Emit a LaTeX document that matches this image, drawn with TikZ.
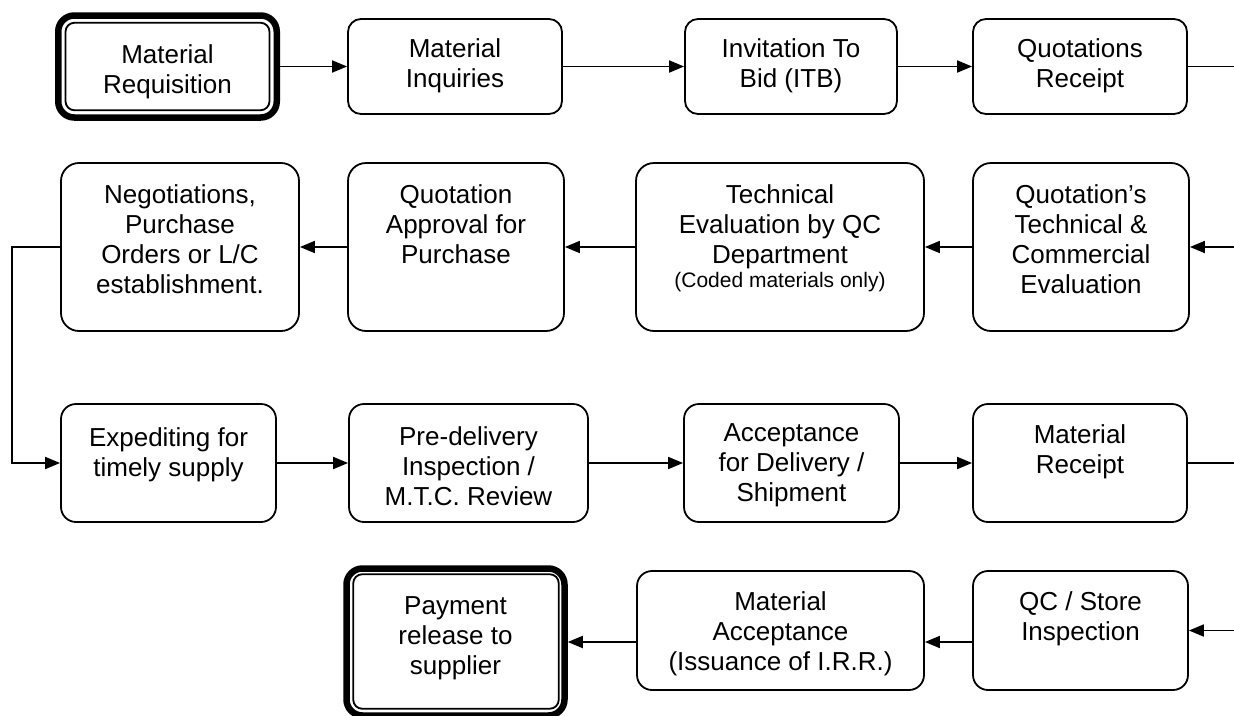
\documentclass[tikz,border=0pt]{standalone}
\usepackage{fontspec}
\setmainfont{Liberation Sans}
\usetikzlibrary{arrows.meta}
\begin{document}
\begin{tikzpicture}[x=1pt,y=-1pt,
  box/.style={draw, line width=1.8pt, rounded corners=#1, inner sep=0pt},
  box/.default=14pt,
  frame/.style={draw, line width=6.5pt, rounded corners=16pt, inner sep=0pt},
  innerframe/.style={line width=1.8pt, rounded corners=9pt},
  txt/.style={inner sep=0pt, align=center, anchor=north, font=\fontsize{26}{30}\selectfont},
  arr/.style={line width=1.8pt, -{Triangle[length=15pt,width=12pt]}},
  ln/.style={line width=1.8pt}
]
\useasboundingbox (0,0) rectangle (1234,715);

% ---------- row 1 ----------
\node[frame, minimum width=218.5pt, minimum height=102pt] (req) at (167.5,66.5) {};
\draw[innerframe] ([shift={(10.5pt,-10.5pt)}]req.north west) rectangle ([shift={(-10.5pt,10.5pt)}]req.south east);
\node[txt] (reqt) at (167.5,44) {Material\\Requisition};

\node[box=13pt, minimum width=214pt, minimum height=95pt] (inq) at (455,66.5) {};
\node[txt] (inqt) at (455,38) {Material\\Inquiries};

\node[box=13pt, minimum width=212pt, minimum height=95pt] (itb) at (791,66.5) {};
\node[txt] (itbt) at (791,38) {Invitation To\\Bid (ITB)};

\node[box=13pt, minimum width=214pt, minimum height=95pt] (qr) at (1080,66.5) {};
\node[txt] (qrt) at (1080,38) {Quotations\\Receipt};

% ---------- row 2 ----------
\node[box=18pt, minimum width=216pt, minimum height=168pt] (qte) at (1081,247) {};
\node[txt] (qtet) at (1081,184) {Quotation’s\\Technical \&\\Commercial\\Evaluation};

\node[box=18pt, minimum width=288pt, minimum height=168pt] (tech) at (780,247) {};
\node[txt] (techt) at (780,184) {Technical\\Evaluation by QC\\Department\\[-6pt]{\fontsize{21}{24}\selectfont (Coded materials only)}};

\node[box=18pt, minimum width=216pt, minimum height=168pt] (qap) at (456,247) {};
\node[txt] (qapt) at (456,184) {Quotation\\Approval for\\Purchase};

\node[box=18pt, minimum width=238pt, minimum height=168pt] (neg) at (180,247) {};
\node[txt] (negt) at (180,184) {Negotiations,\\Purchase\\Orders or L/C\\establishment.};

% ---------- row 3 ----------
\node[box=15pt, minimum width=215pt, minimum height=118pt] (exp) at (168.5,463) {};
\node[txt] (expt) at (168.5,427) {Expediting for\\timely supply};

\node[box=15pt, minimum width=239pt, minimum height=118pt] (pre) at (468.5,463) {};
\node[txt] (pret) at (468.5,426) {Pre-delivery\\Inspection /\\M.T.C. Review};

\node[box=15pt, minimum width=215pt, minimum height=118pt] (acc) at (791.5,463) {};
\node[txt] (acct) at (791.5,423) {Acceptance\\for Delivery /\\Shipment};

\node[box=15pt, minimum width=214pt, minimum height=118pt] (mr) at (1080,463) {};
\node[txt] (mrt) at (1080,424) {Material\\Receipt};

% ---------- row 4 ----------
\node[box=15pt, minimum width=215pt, minimum height=119pt] (qc) at (1080.5,630.5) {};
\node[txt] (qct) at (1080.5,591) {QC / Store\\Inspection};

\node[box=15pt, minimum width=287pt, minimum height=119pt] (ma) at (780.5,630.5) {};
\node[txt] (mat) at (780.5,591) {Material\\Acceptance\\(Issuance of I.R.R.)};

\node[frame, minimum width=218pt, minimum height=147pt] (pay) at (455.5,642) {};
\draw[innerframe] ([shift={(10pt,-9pt)}]pay.north west) rectangle ([shift={(-9pt,10pt)}]pay.south east);
\node[txt] (payt) at (455.5,596) {Payment\\release to\\supplier};

% ---------- free ends ----------
\coordinate (r1) at (1236,66.5);
\coordinate (r2) at (1236,247);
\coordinate (r3) at (1236,463);
\coordinate (r4) at (1236,630.5);
\coordinate (lft) at (12,0);

% ---------- connectors ----------
\draw[arr] (req.east) -- (inq.west);
\draw[arr] (inq.east) -- (itb.west);
\draw[arr] (itb.east) -- (qr.west);
\draw[ln] (qr.east) -- (r1);

\draw[arr] (r2) -- (qte.east);
\draw[arr] (qte.west) -- (tech.east);
\draw[arr] (tech.west) -- (qap.east);
\draw[arr] (qap.west) -- (neg.east);

\draw[arr] (neg.west) -- (neg.west -| lft) |- (exp.west);

\draw[arr] (exp.east) -- (pre.west);
\draw[arr] (pre.east) -- (acc.west);
\draw[arr] (acc.east) -- (mr.west);
\draw[ln] (mr.east) -- (r3);

\draw[arr] (r4) -- (qc.east);
\draw[arr] (qc.west |- pay.east) -- (ma.east |- pay.east);
\draw[arr] (ma.west |- pay.east) -- (pay.east);
\end{tikzpicture}
\end{document}
